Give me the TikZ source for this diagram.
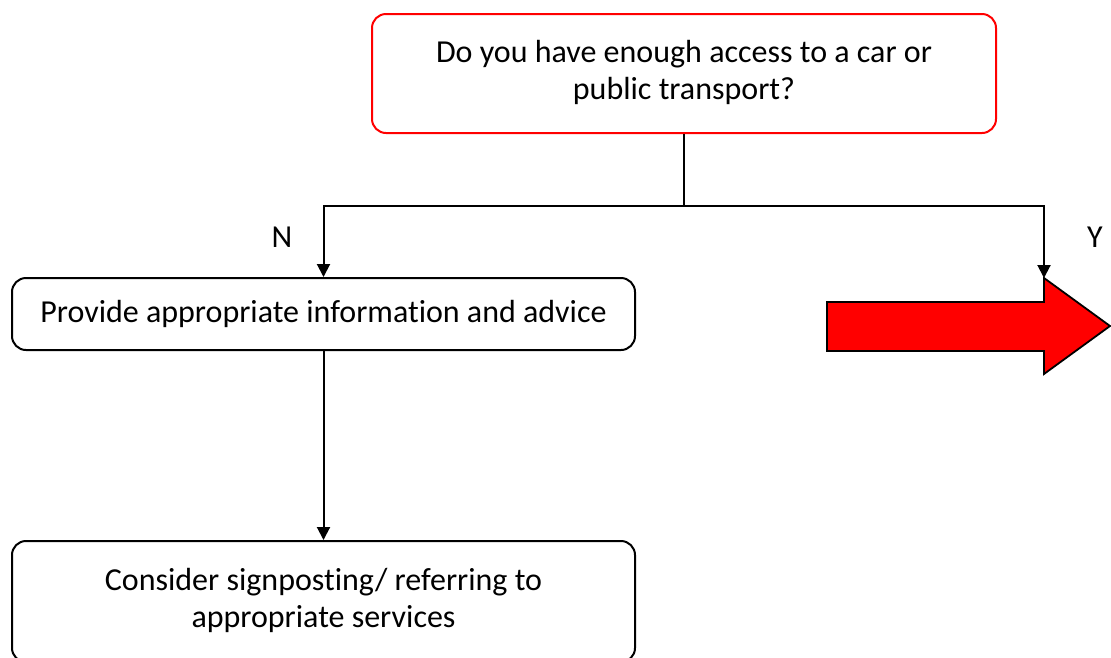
\documentclass[tikz,border=0pt]{standalone}
\usepackage{fontspec}
\setmainfont{Carlito}[Ligatures=CommonOff]
\usetikzlibrary{arrows.meta}
\begin{document}
\begin{tikzpicture}[x=1pt,y=-1pt,
  box/.style={draw=black, line width=2pt, rounded corners=14pt, align=center,
    inner sep=0pt, font=\fontsize{32}{37}\selectfont},
  conn/.style={line width=2pt},
  flow/.style={conn, -{Triangle[width=13pt,length=13pt]}},
  lbl/.style={font=\fontsize{32}{37}\selectfont}]
\useasboundingbox (0,0) rectangle (1111,657);

% decision and action boxes
\node[box, draw=red, minimum width=624pt, minimum height=119pt] (q) at (684,73.5)
  {Do you have enough access to a car or\\public transport?\\[-30pt]};
\node[box, minimum width=623pt, minimum height=72pt] (info) at (323.5,314)
  {Provide appropriate information and advice};
\node[box, minimum width=623pt, minimum height=121pt] (refer) at (323.5,601.5)
  {Consider signposting/ referring to\\appropriate services\\[-30pt]};

% red block arrow for the "yes" branch
\draw[line width=1.8pt, fill=red, line join=miter]
  (827,302) -- (1044,302) -- (1044,278) -- (1110,326) -- (1044,374)
  -- (1044,351) -- (827,351) -- cycle;
\coordinate (go) at (1044,278);

% connectors
\coordinate (split) at (684,206);
\draw[conn] (q.south) -- (split);
\draw[flow] (split) -| (info.north);
\draw[flow] (split) -| (go);
\draw[flow] (info.south) -- (refer.north);

% branch labels
\node[lbl] (n) at (282,237) {N};
\node[lbl] (y) at (1095,237) {Y};
\end{tikzpicture}
\end{document}
